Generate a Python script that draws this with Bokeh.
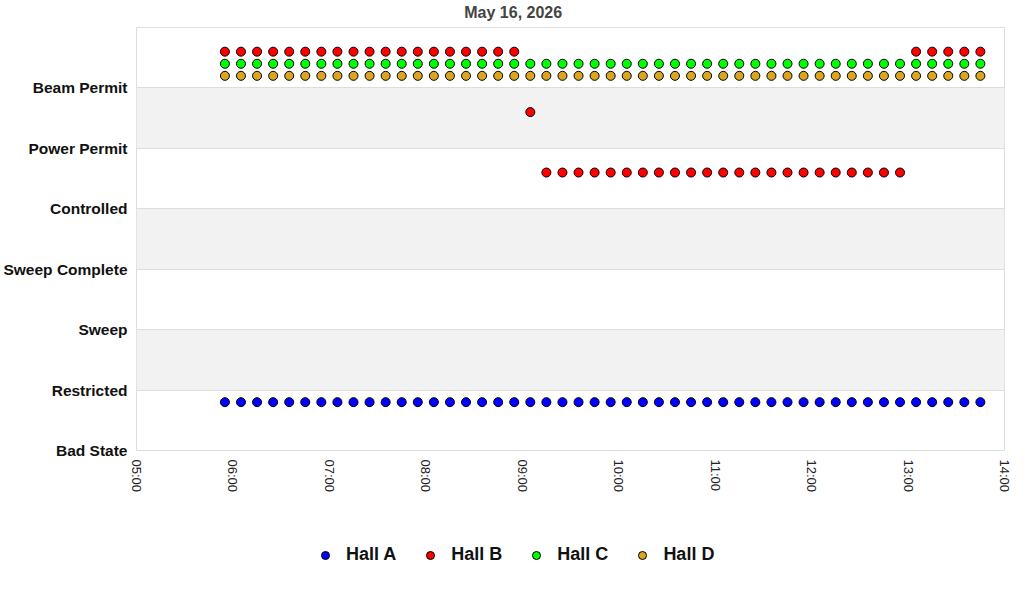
import pandas as pd
from bokeh.plotting import figure
from bokeh.layouts import column
from bokeh.models import (ColumnDataSource, FixedTicker, DatetimeTickFormatter, Range1d,
                          Legend, LegendItem, Label)
from bokeh.embed import file_html
from bokeh.resources import INLINE

title_text = "May 16, 2026"
day = "2026-05-16"

states = ["Bad State", "Restricted", "Sweep", "Sweep Complete", "Controlled", "Power Permit", "Beam Permit"]
x_ticks = ["05:00", "06:00", "07:00", "08:00", "09:00", "10:00", "11:00", "12:00", "13:00", "14:00"]

times = ["05:55", "06:05", "06:15", "06:25", "06:35", "06:45", "06:55", "07:05", "07:15", "07:25",
         "07:35", "07:45", "07:55", "08:05", "08:15", "08:25", "08:35", "08:45", "08:55", "09:05",
         "09:15", "09:25", "09:35", "09:45", "09:55", "10:05", "10:15", "10:25", "10:35", "10:45",
         "10:55", "11:05", "11:15", "11:25", "11:35", "11:45", "11:55", "12:05", "12:15", "12:25",
         "12:35", "12:45", "12:55", "13:05", "13:15", "13:25", "13:35", "13:45"]

hall_a = [0.8, 0.8, 0.8, 0.8, 0.8, 0.8, 0.8, 0.8, 0.8, 0.8,
          0.8, 0.8, 0.8, 0.8, 0.8, 0.8, 0.8, 0.8, 0.8, 0.8,
          0.8, 0.8, 0.8, 0.8, 0.8, 0.8, 0.8, 0.8, 0.8, 0.8,
          0.8, 0.8, 0.8, 0.8, 0.8, 0.8, 0.8, 0.8, 0.8, 0.8,
          0.8, 0.8, 0.8, 0.8, 0.8, 0.8, 0.8, 0.8]
hall_b = [6.6, 6.6, 6.6, 6.6, 6.6, 6.6, 6.6, 6.6, 6.6, 6.6,
          6.6, 6.6, 6.6, 6.6, 6.6, 6.6, 6.6, 6.6, 6.6, 5.6,
          4.6, 4.6, 4.6, 4.6, 4.6, 4.6, 4.6, 4.6, 4.6, 4.6,
          4.6, 4.6, 4.6, 4.6, 4.6, 4.6, 4.6, 4.6, 4.6, 4.6,
          4.6, 4.6, 4.6, 6.6, 6.6, 6.6, 6.6, 6.6]
hall_c = [6.4, 6.4, 6.4, 6.4, 6.4, 6.4, 6.4, 6.4, 6.4, 6.4,
          6.4, 6.4, 6.4, 6.4, 6.4, 6.4, 6.4, 6.4, 6.4, 6.4,
          6.4, 6.4, 6.4, 6.4, 6.4, 6.4, 6.4, 6.4, 6.4, 6.4,
          6.4, 6.4, 6.4, 6.4, 6.4, 6.4, 6.4, 6.4, 6.4, 6.4,
          6.4, 6.4, 6.4, 6.4, 6.4, 6.4, 6.4, 6.4]
hall_d = [6.2, 6.2, 6.2, 6.2, 6.2, 6.2, 6.2, 6.2, 6.2, 6.2,
          6.2, 6.2, 6.2, 6.2, 6.2, 6.2, 6.2, 6.2, 6.2, 6.2,
          6.2, 6.2, 6.2, 6.2, 6.2, 6.2, 6.2, 6.2, 6.2, 6.2,
          6.2, 6.2, 6.2, 6.2, 6.2, 6.2, 6.2, 6.2, 6.2, 6.2,
          6.2, 6.2, 6.2, 6.2, 6.2, 6.2, 6.2, 6.2]

halls = ["Hall A", "Hall B", "Hall C", "Hall D"]
hall_values = [hall_a, hall_b, hall_c, hall_d]
colors = ["#0000ff", "#ff0000", "#00ff00", "#daa520"]

FONT = "Liberation Sans"
W = 1016


def to_dt(hhmm):
    return pd.to_datetime(f"{day} {hhmm}")


x = [to_dt(t) for t in times]
tick_ms = [to_dt(t).value // 10**6 for t in x_ticks]


def strip(height):
    f = figure(width=W, height=height, output_backend="svg", toolbar_location=None,
               x_axis_location=None, y_axis_location=None,
               x_range=Range1d(0, 1), y_range=Range1d(0, 1),
               min_border_left=0, min_border_right=0, min_border_top=0, min_border_bottom=0)
    f.grid.grid_line_color = None
    f.outline_line_color = None
    return f


# title strip (its frame is aligned with the chart frame by the column layout)
top = strip(27)
top.add_layout(Label(x=0.434, y=0.55, text=title_text, text_font=FONT, text_font_style="bold",
                     text_font_size="16px", text_color="#444444",
                     text_align="center", text_baseline="middle"))

p = figure(width=W, height=483, x_axis_type="datetime", output_backend="svg",
           toolbar_location=None,
           x_range=Range1d(to_dt(x_ticks[0]), to_dt(x_ticks[-1])),
           y_range=Range1d(0, len(states)),
           min_border_left=136, min_border_right=12, min_border_top=0, min_border_bottom=60)

p.outline_line_color = "#dddddd"
p.outline_line_width = 1
p.background_fill_color = "white"
p.border_fill_color = "white"

# y axis
p.yaxis.ticker = FixedTicker(ticks=list(range(len(states))))
p.yaxis.major_label_overrides = {i: s for i, s in enumerate(states)}
p.yaxis.major_label_text_font = FONT
p.yaxis.major_label_text_font_style = "bold"
p.yaxis.major_label_text_font_size = "15.5px"
p.yaxis.major_label_text_color = "#111111"
p.yaxis.axis_line_color = None
p.yaxis.major_tick_line_color = None
p.yaxis.minor_tick_line_color = None
p.yaxis.major_tick_out = 0
p.yaxis.major_tick_in = 0
p.yaxis.minor_tick_out = 0
p.yaxis.major_label_standoff = 9

# grid
p.ygrid.ticker = FixedTicker(ticks=list(range(1, len(states))))
p.ygrid.grid_line_color = "#dddddd"
p.ygrid.band_fill_color = "#f2f2f2"
p.ygrid.band_fill_alpha = 1.0
p.xgrid.grid_line_color = None

# x axis
p.xaxis.ticker = FixedTicker(ticks=tick_ms)
fmt = "%H:%M"
p.xaxis.formatter = DatetimeTickFormatter(milliseconds=fmt, seconds=fmt, minsec=fmt, minutes=fmt,
                                          hourmin=fmt, hours=fmt, days=fmt, months=fmt, years=fmt)
p.xaxis.major_label_orientation = "vertical"
p.xaxis.major_label_text_font = FONT
p.xaxis.major_label_text_font_size = "13px"
p.xaxis.major_label_text_color = "#222222"
p.xaxis.axis_line_color = None
p.xaxis.major_tick_line_color = None
p.xaxis.minor_tick_line_color = None
p.xaxis.major_tick_out = 0
p.xaxis.major_tick_in = 0
p.xaxis.minor_tick_out = 0
p.xaxis.major_label_standoff = 9

sources = []
for vals, col in zip(hall_values, colors):
    src = ColumnDataSource(dict(x=x, y=vals))
    sources.append(src)
    p.scatter("x", "y", source=src, size=9, fill_color=col, line_color="black", line_width=1)

# legend strip below the chart (its renderers share the data but lie outside its view)
lg = strip(82)
items = []
for name, src, col in zip(halls, sources, colors):
    r = lg.scatter("x", "y", source=src, size=9,
                   fill_color=col, line_color="black", line_width=1)
    items.append(LegendItem(label=name, renderers=[r]))

legend = Legend(items=items, orientation="horizontal", location=(179, 27),
                label_text_font=FONT, label_text_font_style="bold", label_text_font_size="18px",
                label_text_color="#111111", border_line_color=None, background_fill_alpha=0,
                spacing=24, label_standoff=11, glyph_width=20, margin=0)
lg.add_layout(legend, "center")

layout = column(top, p, lg, spacing=0)
open("out.html", "w").write(file_html(layout, INLINE))
